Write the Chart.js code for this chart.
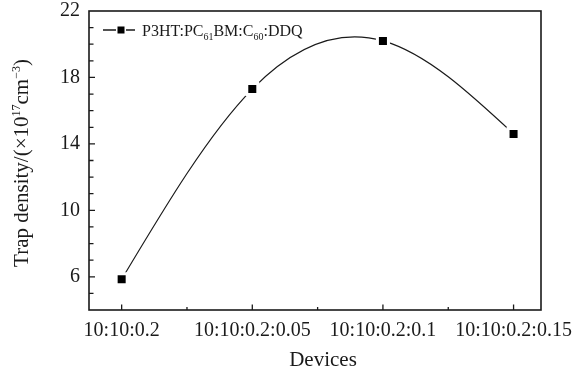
<!DOCTYPE html>
<html>
<head>
<meta charset="utf-8">
<script src="https://cdn.jsdelivr.net/npm/chart.js@4.4.1/dist/chart.umd.min.js"></script>
<style>
  html, body { margin: 0; padding: 0; background: #fff; }
  #wrap { width: 583px; height: 372px; }
</style>
</head>
<body>
<div id="wrap"><canvas id="trapChart"></canvas></div>
<script>
const devices = ['10:10:0.2', '10:10:0.2:0.05', '10:10:0.2:0.1', '10:10:0.2:0.15'];
const trapDensity = [5.85, 17.3, 20.2, 14.6];
const yTickLabels = [6, 10, 14, 18, 22];
const xTicks = [0, 0.5, 1, 1.5, 2, 2.5, 3];
const yTicks = [4, 5, 6, 7, 8, 9, 10, 11, 12, 13, 14, 15, 16, 17, 18, 19, 20, 21, 22];

const serif = '"Liberation Serif", "DejaVu Serif", serif';
const ink = '#1a1a1a';

// natural cubic spline slopes for unit-spaced x (like Origin's spline connector)
function splineSlopes(y) {
  const n = y.length;
  const M = new Array(n).fill(0);
  if (n > 2) {
    const m = n - 2;
    const a = [], b = [], c = [], d = [];
    for (let i = 1; i <= m; i++) {
      a.push(1); b.push(4); c.push(1);
      d.push(6 * (y[i - 1] - 2 * y[i] + y[i + 1]));
    }
    for (let i = 1; i < m; i++) {
      const w = a[i] / b[i - 1];
      b[i] -= w * c[i - 1];
      d[i] -= w * d[i - 1];
    }
    const sol = new Array(m);
    sol[m - 1] = d[m - 1] / b[m - 1];
    for (let i = m - 2; i >= 0; i--) sol[i] = (d[i] - c[i] * sol[i + 1]) / b[i];
    for (let i = 1; i <= m; i++) M[i] = sol[i - 1];
  }
  const s = [];
  for (let i = 0; i < n - 1; i++) s.push((y[i + 1] - y[i]) - (2 * M[i] + M[i + 1]) / 6);
  s.push((y[n - 1] - y[n - 2]) + (M[n - 2] + 2 * M[n - 1]) / 6);
  return s;
}

const splinePlugin = {
  id: 'spline',
  beforeDatasetsDraw(chart) {
    const ctx = chart.ctx;
    const xs = chart.scales.x, ys = chart.scales.y;
    const s = splineSlopes(trapDensity);
    const P = (x, y) => [xs.getPixelForValue(x), ys.getPixelForValue(y)];
    ctx.save();
    ctx.strokeStyle = ink;
    ctx.lineWidth = 1.2;
    ctx.beginPath();
    const p0 = P(0, trapDensity[0]);
    ctx.moveTo(p0[0], p0[1]);
    for (let i = 0; i < trapDensity.length - 1; i++) {
      const c1 = P(i + 1 / 3, trapDensity[i] + s[i] / 3);
      const c2 = P(i + 2 / 3, trapDensity[i + 1] - s[i + 1] / 3);
      const e = P(i + 1, trapDensity[i + 1]);
      ctx.bezierCurveTo(c1[0], c1[1], c2[0], c2[1], e[0], e[1]);
    }
    ctx.stroke();
    ctx.restore();
  }
};

// frame, inward ticks, axis titles and legend
const framePlugin = {
  id: 'frame',
  afterDraw(chart) {
    const ctx = chart.ctx;
    const a = chart.chartArea;
    const xs = chart.scales.x, ys = chart.scales.y;
    ctx.save();
    ctx.strokeStyle = ink;
    ctx.lineWidth = 1.6;
    ctx.strokeRect(a.left, a.top, a.right - a.left, a.bottom - a.top);

    ctx.lineWidth = 1.3;
    ctx.beginPath();
    xTicks.forEach(v => {
      const px = xs.getPixelForValue(v);
      const len = Number.isInteger(v) ? 5.5 : 3;
      ctx.moveTo(px, a.bottom);
      ctx.lineTo(px, a.bottom - len);
    });
    yTicks.forEach(v => {
      if (v === 4 || v === 22) return;
      const py = ys.getPixelForValue(v);
      const len = yTickLabels.includes(v) ? 6 : 4.5;
      ctx.moveTo(a.left, py);
      ctx.lineTo(a.left + len, py);
    });
    ctx.stroke();

    // x title
    ctx.fillStyle = ink;
    ctx.font = '21px ' + serif;
    ctx.textAlign = 'center';
    ctx.textBaseline = 'middle';
    ctx.fillText('Devices', 323, 360);

    // y title with superscripts
    const parts = [
      ['Trap density/(×10', 21, 0],
      ['17', 12, -8],
      ['cm', 21, 0],
      ['−3', 12, -8],
      [')', 21, 0]
    ];
    let total = 0;
    parts.forEach(p => { ctx.font = p[1] + 'px ' + serif; p.push(ctx.measureText(p[0]).width); total += p[3]; });
    ctx.translate(28, 163);
    ctx.rotate(-Math.PI / 2);
    ctx.textAlign = 'left';
    ctx.textBaseline = 'alphabetic';
    let x = -total / 2;
    parts.forEach(p => {
      ctx.font = p[1] + 'px ' + serif;
      ctx.fillText(p[0], x, p[2]);
      x += p[3];
    });
    ctx.setTransform(1, 0, 0, 1, 0, 0);

    // legend
    const ly = 30;
    ctx.strokeStyle = ink;
    ctx.lineWidth = 1.3;
    ctx.beginPath();
    ctx.moveTo(103, ly); ctx.lineTo(116, ly);
    ctx.moveTo(126, ly); ctx.lineTo(135, ly);
    ctx.stroke();
    ctx.fillStyle = '#000';
    ctx.fillRect(117.5, ly - 3.5, 7, 7);
    ctx.fillStyle = ink;
    const leg = [
      ['P3HT:PC', 16, 0],
      ['61', 10, 4],
      ['BM:C', 16, 0],
      ['60', 10, 4],
      [':DDQ', 16, 0]
    ];
    let lx = 142;
    leg.forEach(p => {
      ctx.font = p[1] + 'px ' + serif;
      ctx.fillText(p[0], lx, 35.5 + p[2]);
      lx += ctx.measureText(p[0]).width;
    });
    ctx.restore();
  }
};

const ctx = document.getElementById('trapChart');
const trapChart = new Chart(ctx, {
  type: 'line',
  data: {
    datasets: [{
      label: 'P3HT:PC61BM:C60:DDQ',
      data: devices.map((d, i) => ({ x: i, y: trapDensity[i] })),
      showLine: false,
      pointStyle: 'rect',
      pointRadius: 7.8,
      pointBackgroundColor: '#000',
      pointBorderColor: '#fff',
      pointBorderWidth: 3,
      clip: false
    }]
  },
  options: {
    responsive: true,
    maintainAspectRatio: false,
    animation: false,
    events: [],
    layout: { padding: { top: 11, right: 42, left: 0, bottom: 0 } },
    scales: {
      x: {
        type: 'linear',
        min: -0.25,
        max: 3.21,
        afterBuildTicks: s => { s.ticks = xTicks.map(v => ({ value: v })); },
        afterFit: s => { s.height = 62; s.paddingLeft = 0; s.paddingRight = 0; },
        grid: { display: false, drawTicks: false },
        border: { display: false },
        ticks: {
          autoSkip: false,
          maxRotation: 0,
          padding: 9,
          color: ink,
          font: { family: serif, size: 20 },
          callback: v => Number.isInteger(v) ? devices[v] : ''
        }
      },
      y: {
        min: 4,
        max: 22,
        afterBuildTicks: s => { s.ticks = yTicks.map(v => ({ value: v })); },
        afterFit: s => { s.width = 89; s.paddingTop = 0; s.paddingBottom = 0; },
        grid: { display: false, drawTicks: false },
        border: { display: false },
        ticks: {
          autoSkip: false,
          padding: 9,
          color: ink,
          font: { family: serif, size: 20 },
          callback: v => yTickLabels.includes(v) ? String(v) : ''
        }
      }
    },
    plugins: {
      legend: { display: false },
      tooltip: { enabled: false }
    }
  },
  plugins: [splinePlugin, framePlugin]
});
</script>
</body>
</html>
